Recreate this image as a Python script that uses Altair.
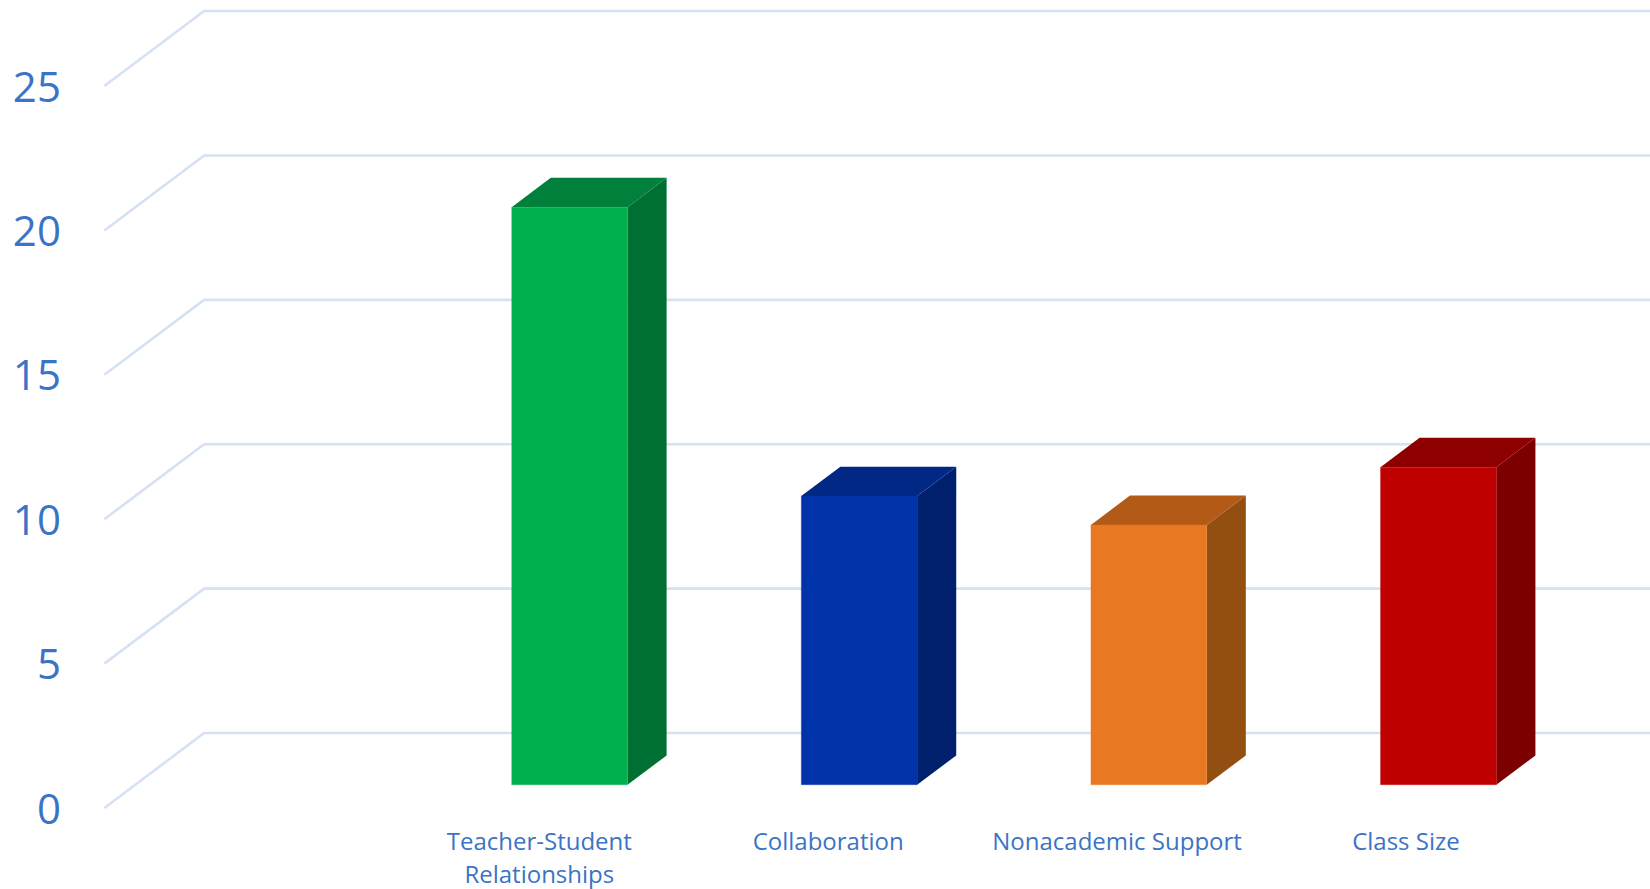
import altair as alt
import pandas as pd

# Chart values
categories = ["Teacher-Student Relationships", "Collaboration", "Nonacademic Support", "Class Size"]
scores = [20, 10, 9, 11]
y_ticks = [0, 5, 10, 15, 20, 25]

# Front, side and top face colours of each column
front_colors = ["#00b04f", "#0033a9", "#e97822", "#bf0000"]
side_colors = ["#007032", "#00206e", "#934f11", "#7c0000"]
top_colors = ["#00803a", "#002884", "#b45a17", "#8e0000"]

TEXT = "#3b73c6"
GRID = "#d6e1f3"

# Oblique projection: t runs from the front (0) to the back (1) of the floor
DEPTH_X = 0.3443
DEPTH_Y = 2.597
BAR_T0 = 0.309
BAR_T1 = 0.701
BAR_WIDTH = 0.4
LABEL_STEP = 0.9975
X_MAX = 5.337
Y_MAX = 27.98


def px(x, t):
    return x + t * DEPTH_X


def py(v, t):
    return v + t * DEPTH_Y


grid_rows = []
for tick in y_ticks:
    grid_rows.append({"tick": tick, "order": 0, "x": px(0, 0), "y": py(tick, 0)})
    grid_rows.append({"tick": tick, "order": 1, "x": px(0, 1), "y": py(tick, 1)})
    grid_rows.append({"tick": tick, "order": 2, "x": X_MAX, "y": py(tick, 1)})

front_rows, face_rows = [], []
for i, (value, fc, sc, tc) in enumerate(zip(scores, front_colors, side_colors, top_colors)):
    # The first slot of the category axis stays empty
    center = i + 1.5
    left = center - BAR_WIDTH / 2
    right = center + BAR_WIDTH / 2
    front_rows.append({
        "x": px(left, BAR_T0), "x2": px(right, BAR_T0),
        "y": py(0, BAR_T0), "y2": py(value, BAR_T0), "color": fc,
    })
    # Side face: a parallelogram between the front and back edges
    face_rows.append({"face": f"side{i}", "color": sc, "x": px(right, BAR_T0),
                      "lo": py(0, BAR_T0), "hi": py(value, BAR_T0)})
    face_rows.append({"face": f"side{i}", "color": sc, "x": px(right, BAR_T1),
                      "lo": py(0, BAR_T1), "hi": py(value, BAR_T1)})
    # Top face: a parallelogram from the front top edge to the back top edge
    yf, yb = py(value, BAR_T0), py(value, BAR_T1)
    face_rows.append({"face": f"top{i}", "color": tc, "x": px(left, BAR_T0), "lo": yf, "hi": yf})
    face_rows.append({"face": f"top{i}", "color": tc, "x": px(left, BAR_T1), "lo": yf, "hi": yb})
    face_rows.append({"face": f"top{i}", "color": tc, "x": px(right, BAR_T0), "lo": yf, "hi": yb})
    face_rows.append({"face": f"top{i}", "color": tc, "x": px(right, BAR_T1), "lo": yb, "hi": yb})

x_scale = alt.Scale(domain=[0, X_MAX], nice=False, zero=False)
y_scale = alt.Scale(domain=[0, Y_MAX], nice=False, zero=False)

label_expr = (
    "datum.value < 2 ? ['Teacher-Student', 'Relationships'] : "
    "datum.value < 3 ? 'Collaboration' : "
    "datum.value < 4 ? 'Nonacademic Support' : 'Class Size'"
)

x_axis = alt.Axis(
    values=[1.5 + i * LABEL_STEP for i in range(len(categories))],
    labelExpr=label_expr,
    title=None, grid=False, domain=False, ticks=False,
    labelFont="Open Sans", labelFontSize=24, labelColor=TEXT, labelAngle=0, labelLimit=400,
    labelPadding=22, labelLineHeight=33, labelOverlap=False, labelFlush=False, labelBound=False,
)
y_axis = alt.Axis(
    values=y_ticks, title=None, grid=False, domain=False, ticks=False,
    labelFont="Open Sans", labelFontSize=42, labelColor=TEXT, labelOffset=2,
    labelPadding=44, labelOverlap=False, labelFlush=False, labelBound=False,
)

grid = alt.Chart(pd.DataFrame(grid_rows)).mark_line(color=GRID, strokeWidth=2.6, strokeJoin="miter").encode(
    x=alt.X("x:Q", scale=x_scale, axis=x_axis),
    y=alt.Y("y:Q", scale=y_scale, axis=y_axis),
    detail="tick:N",
    order="order:Q",
)

faces = alt.Chart(pd.DataFrame(face_rows)).mark_area(
    interpolate="linear", orient="vertical", line=False
).encode(
    x=alt.X("x:Q", scale=x_scale),
    y=alt.Y("lo:Q", scale=y_scale),
    y2="hi:Q",
    color=alt.Color("color:N", scale=None),
    detail="face:N",
)

# A hairline stroke in the face's own colour closes the seam against the side face
fronts = alt.Chart(pd.DataFrame(front_rows)).mark_rect(strokeWidth=0.3).encode(
    x=alt.X("x:Q", scale=x_scale),
    x2="x2:Q",
    y=alt.Y("y:Q", scale=y_scale),
    y2="y2:Q",
    color=alt.Color("color:N", scale=None),
    stroke=alt.Stroke("color:N", scale=None),
)

chart = (
    alt.layer(grid, faces, fronts)
    .properties(
        width=1545.6,
        height=808,
        padding={"left": 104.4, "top": 0, "right": 0, "bottom": 81},
        autosize=alt.AutoSizeParams(type="none"),
        background="white",
    )
    .configure_view(stroke=None)
)

chart.save("out.html", embed_options={"renderer": "svg", "actions": False})
